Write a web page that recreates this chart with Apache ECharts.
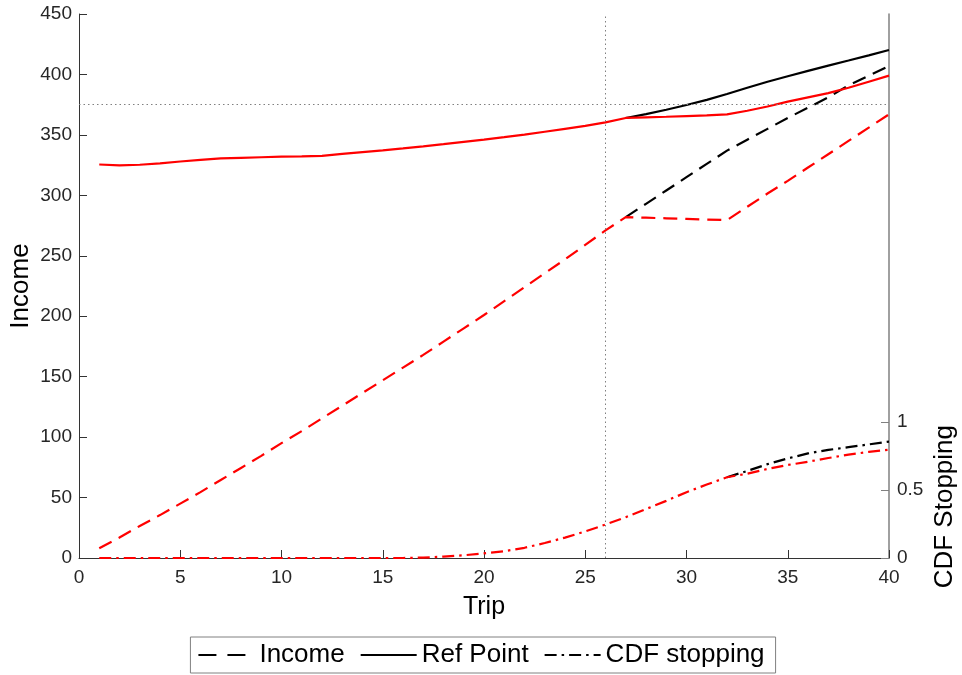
<!DOCTYPE html>
<html>
<head>
<meta charset="utf-8">
<script src="https://cdn.jsdelivr.net/npm/echarts@6/dist/echarts.min.js"></script>
<style>
  html, body { margin: 0; padding: 0; background: #fff; }
  #chart { width: 962px; height: 675px; }
</style>
</head>
<body>
<div id="chart"></div>
<script>
// Trip index (x axis)
var trips = [1,2,3,4,5,6,7,8,9,10,11,12,13,14,15,16,17,18,19,20,
             21,22,23,24,25,26,27,28,29,30,31,32,33,34,35,36,37,38,39,40];

// Cumulative income, red scenario (full path) and black scenario (after trip 27)
var incomeRed = [8,17,26.5,35.5,45,54.5,64.5,74.5,84.5,95,105,115.5,126,136.5,147,157.5,168,179,190,201,
                 212.5,224,235.5,247,259,271,282,281.5,281,280.5,280,279.5,290.5,301.5,312,323,334,345,356,367];
var incomeBlack = [null,null,null,null,null,null,null,null,null,null,null,null,null,null,null,null,null,null,null,null,
                   null,null,null,null,null,null,282,293,304,315,326,337,346,355,364,372.5,381,391,399,407];

// Reference point
var refRed = [325.5,324.8,325.3,326.5,328,329.3,330.5,331,331.5,332,332.3,332.7,334.3,335.8,337.2,338.8,340.5,342.3,344.2,346.1,
              348.1,350.2,352.6,355,357.4,360.3,364,364.5,365,365.6,366.2,367,370,373.5,377.5,381,384.5,389,394,399];
var refBlack = [null,null,null,null,null,null,null,null,null,null,null,null,null,null,null,null,null,null,null,null,
                null,null,null,null,null,null,364,367.2,370.8,374.7,379,383.8,389,394,398.5,403,407.3,411.5,415.8,420.2];

// CDF of stopping (right axis)
var cdfRed = [0,0,0,0,0,0,0,0,0,0,0,0,0,0,0,0,0.003,0.01,0.02,0.034,
              0.05,0.075,0.11,0.15,0.195,0.246,0.3,0.36,0.42,0.484,0.54,0.594,0.62,0.655,0.684,0.708,0.735,0.76,0.78,0.796];
var cdfBlack = [null,null,null,null,null,null,null,null,null,null,null,null,null,null,null,null,null,null,null,null,
                null,null,null,null,null,null,null,null,null,null,null,0.594,0.64,0.69,0.732,0.769,0.795,0.815,0.835,0.856];

// Axis ticks
var incomeTicks = [0,50,100,150,200,250,300,350,400,450];
var cdfTicks = [0, 0.5, 1];
var tripTicks = [0,5,10,15,20,25,30,35,40];

// Reference markers
var stopTrip = 26;
var targetIncome = 375;

function pairs(ys) {
  return trips.map(function (t, i) { return [t, ys[i]]; });
}

var FONT = 'Liberation Sans, Arial, Helvetica, sans-serif';
var DASH = [14, 8];
var DASHDOT = [12, 5, 2.5, 5];
var LW = 2.2;

var chart = echarts.init(document.getElementById('chart'), null, { renderer: 'canvas' });

function lineSeries(name, data, color, dash, axis) {
  return {
    name: name,
    type: 'line',
    data: pairs(data),
    yAxisIndex: axis,
    showSymbol: false,
    symbol: 'none',
    connectNulls: false,
    animation: false,
    lineStyle: { color: color, width: LW, type: dash },
    itemStyle: { color: color }
  };
}

var series = [
  lineSeries('Income', incomeBlack, '#000000', DASH, 0),
  lineSeries('Ref Point', refBlack, '#000000', 'solid', 0),
  lineSeries('CDF stopping', cdfBlack, '#000000', DASHDOT, 1),
  lineSeries('Income B', incomeRed, '#ff0000', DASH, 0),
  lineSeries('Ref Point B', refRed, '#ff0000', 'solid', 0),
  lineSeries('CDF stopping B', cdfRed, '#ff0000', DASHDOT, 1)
];

// dotted guide lines at the stopping trip and target income
series[0].markLine = {
  silent: true,
  symbol: 'none',
  animation: false,
  label: { show: false },
  lineStyle: { color: '#808080', width: 1, type: [1.5, 3] },
  data: [{ xAxis: stopTrip }, { yAxis: targetIncome }]
};
series[0].z = 1;

var option = {
  backgroundColor: '#ffffff',
  animation: false,
  grid: { left: 79, right: 73, top: 14, bottom: 117, outerBoundsMode: 'none', containLabel: false },
  legend: {
    data: [
      { name: 'Income', lineStyle: { type: [18, 11] } },
      { name: 'Ref Point' },
      { name: 'CDF stopping' }
    ],
    left: 'center',
    top: 637,
    orient: 'horizontal',
    itemWidth: 56,
    itemHeight: 14,
    itemGap: 15,
    padding: [5, 11, 5, 7],
    borderColor: '#808080',
    borderWidth: 1,
    itemStyle: { color: 'rgba(0,0,0,0)', borderColor: 'rgba(0,0,0,0)', borderWidth: 0, opacity: 0 },
    textStyle: { fontFamily: FONT, fontSize: 26, color: '#000' },
    selectedMode: false
  },
  xAxis: {
    type: 'value',
    min: 0, max: 40, interval: 5,
    name: 'Trip',
    nameLocation: 'middle',
    nameGap: 37,
    nameMoveOverlap: false,
    nameTextStyle: { fontFamily: FONT, fontSize: 25, color: '#000' },
    axisLine: { show: true, lineStyle: { color: '#333333', width: 1 } },
    axisTick: { show: true, inside: true, length: 8, lineStyle: { color: '#333333' } },
    axisLabel: {
      fontFamily: FONT, fontSize: 19, color: '#262626', margin: 10,
      customValues: tripTicks
    },
    splitLine: { show: false }
  },
  yAxis: [
    {
      type: 'value',
      min: 0, max: 450, interval: 50,
      position: 'left',
      name: 'Income',
      nameLocation: 'middle',
      nameGap: 45,
      nameMoveOverlap: false,
      nameRotate: 90,
      nameTextStyle: { fontFamily: FONT, fontSize: 26, color: '#000' },
      axisLine: { show: true, lineStyle: { color: '#333333', width: 1 } },
      axisTick: { show: true, inside: true, length: 8, lineStyle: { color: '#333333' } },
      axisLabel: { fontFamily: FONT, fontSize: 19, color: '#262626', margin: 7, customValues: incomeTicks },
      splitLine: { show: false }
    },
    {
      type: 'value',
      min: 0, max: 4,
      position: 'right',
      axisLine: { show: true, onZero: false, lineStyle: { color: '#808080', width: 1.5 } },
      axisTick: { show: true, inside: true, length: 8, lineStyle: { color: '#808080' }, customValues: cdfTicks },
      axisLabel: { fontFamily: FONT, fontSize: 19, color: '#262626', margin: 8, customValues: cdfTicks },
      splitLine: { show: false }
    }
  ],
  graphic: [
    {
      type: 'text',
      left: 932,
      top: 425,
      rotation: Math.PI / 2,
      style: {
        text: 'CDF Stopping',
        font: '26px ' + FONT,
        fill: '#000'
      }
    }
  ],
  series: series
};

chart.setOption(option);
</script>
</body>
</html>
